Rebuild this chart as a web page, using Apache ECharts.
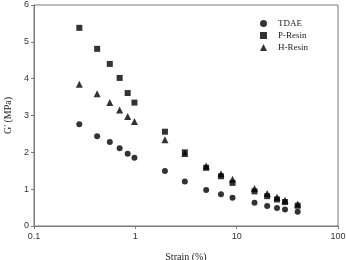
<!DOCTYPE html>
<html>
<head>
<meta charset="utf-8">
<script src="https://cdn.jsdelivr.net/npm/echarts@6/dist/echarts.min.js"></script>
<style>
html, body { margin: 0; padding: 0; background: #fff; }
#chart { width: 346px; height: 260px; }
</style>
</head>
<body>
<div id="chart"></div>
<script>
var strain = [0.28, 0.42, 0.56, 0.7, 0.84, 0.98, 1.96, 3.08, 5, 7, 9.1, 15, 20, 25, 30, 40];
var tdae   = [2.76, 2.44, 2.28, 2.11, 1.96, 1.85, 1.49, 1.21, 0.98, 0.86, 0.77, 0.63, 0.54, 0.49, 0.45, 0.39];
var pResin = [5.38, 4.81, 4.40, 4.02, 3.61, 3.35, 2.56, 2.00, 1.58, 1.35, 1.17, 0.94, 0.81, 0.72, 0.65, 0.55];
var hResin = [3.85, 3.59, 3.35, 3.15, 2.97, 2.84, 2.34, 1.97, 1.63, 1.42, 1.27, 1.02, 0.88, 0.78, 0.70, 0.60];

function pairs(ys) {
    return strain.map(function (x, i) { return [x, ys[i]]; });
}

var axisGray = '#7a7a7a';

var option = {
    animation: false,
    grid: {
        left: 34, right: 8, top: 5, bottom: 34,
        outerBoundsMode: 'none',
        show: true, borderColor: axisGray, borderWidth: 1
    },
    legend: {
        orient: 'vertical',
        left: 255, top: 14,
        itemWidth: 7, itemHeight: 7, itemGap: 3,
        textStyle: { fontFamily: 'Liberation Serif', fontSize: 9, color: '#222', padding: [0, 0, 0, 6] },
        data: ['TDAE', 'P-Resin', 'H-Resin']
    },
    xAxis: {
        type: 'log', logBase: 10, min: 0.1, max: 100,
        name: 'Strain (%)', nameLocation: 'middle', nameGap: 26,
        nameTextStyle: { fontFamily: 'Liberation Serif', fontSize: 10, color: '#222' },
        axisLine: { lineStyle: { color: axisGray } },
        axisTick: { inside: false, length: 3, lineStyle: { color: axisGray } },
        minorTick: { show: false },
        splitLine: { show: false },
        axisLabel: { fontFamily: 'Liberation Sans', fontSize: 9, color: '#333', margin: 6 }
    },
    yAxis: {
        type: 'value', min: 0, max: 6, interval: 1,
        name: "G' (MPa)", nameLocation: 'middle', nameGap: 20, nameRotate: 90,
        nameTextStyle: { fontFamily: 'Liberation Serif', fontSize: 10, color: '#222' },
        axisLine: { show: true, lineStyle: { color: axisGray } },
        axisTick: { show: true, length: 3, lineStyle: { color: axisGray } },
        splitLine: { show: false },
        axisLabel: { fontFamily: 'Liberation Sans', fontSize: 9, color: '#333', margin: 5 }
    },
    series: [
        { name: 'TDAE', type: 'scatter', symbol: 'circle', symbolSize: 6,
          itemStyle: { color: '#000' }, data: pairs(tdae) },
        { name: 'P-Resin', type: 'scatter', symbol: 'rect', symbolSize: 6,
          itemStyle: { color: '#000' }, data: pairs(pResin) },
        { name: 'H-Resin', type: 'scatter', symbol: 'triangle', symbolSize: 7,
          itemStyle: { color: '#000' }, data: pairs(hResin) }
    ]
};

var myChart = echarts.init(document.getElementById('chart'));
myChart.setOption(option);
</script>
</body>
</html>
